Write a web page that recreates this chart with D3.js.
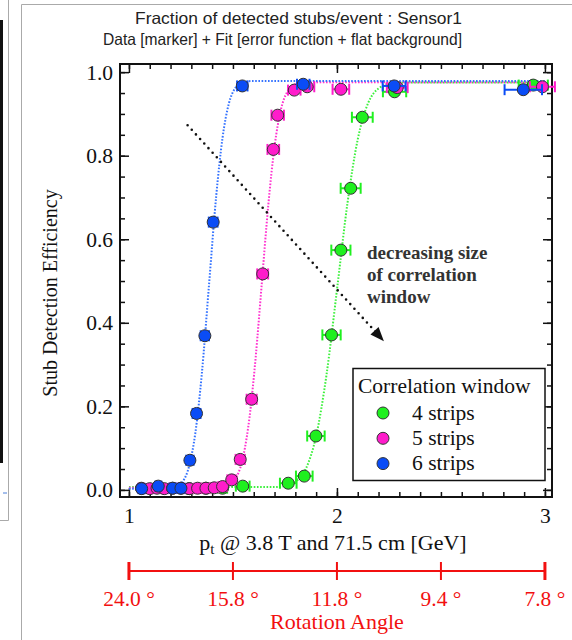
<!DOCTYPE html>
<html>
<head>
<meta charset="utf-8">
<script src="https://cdn.jsdelivr.net/npm/d3@7"></script>
<style>
body{margin:0;background:#fff;}
</style>
</head>
<body>
<div id="chart"></div>
<script>
// measured points, each one is [pt, efficiency, pt error]
var strips4 = [[1.29,0.003,0.018],[1.37,0.004,0.02],[1.45,0.004,0.022],[1.547,0.009,0.033],[1.766,0.016,0.04],
	[1.843,0.033,0.04],[1.899,0.129,0.042],[1.974,0.371,0.044],[2.019,0.574,0.046],[2.066,0.722,0.048],
	[2.122,0.892,0.05],[2.277,0.953,0.056],[2.944,0.969,0.07]];
var strips5 = [[1.06,0.004,0.015],[1.10,0.003,0.015],[1.135,0.004,0.016],[1.17,0.003,0.016],[1.21,0.004,0.017],
	[1.25,0.004,0.017],[1.29,0.003,0.018],[1.33,0.004,0.018],[1.37,0.004,0.019],[1.41,0.005,0.02],
	[1.45,0.008,0.02],[1.494,0.024,0.021],[1.535,0.073,0.022],[1.59,0.217,0.024],[1.643,0.517,0.026],
	[1.694,0.815,0.028],[1.715,0.897,0.03],[1.795,0.957,0.03],[1.857,0.965,0.034],[2.019,0.959,0.04],
	[2.29,0.963,0.05],[2.988,0.965,0.06]];
var strips6 = [[1.061,0.003,0.015],[1.141,0.009,0.015],[1.21,0.004,0.016],[1.25,0.004,0.017],[1.293,0.071,0.018],
	[1.325,0.183,0.019],[1.365,0.369,0.02],[1.405,0.641,0.021],[1.545,0.967,0.025],[1.838,0.971,0.03],
	[2.275,0.967,0.055],[2.896,0.958,0.09]];

// fit curves, [pt, efficiency]
var fit4 = [[1.0,0.007],[1.70,0.007],[1.75,0.009],[1.80,0.019],[1.85,0.05],[1.90,0.129],[1.95,0.276],[2.003,0.491],
	[2.05,0.684],[2.10,0.839],[2.15,0.926],[2.20,0.961],[2.26,0.973],[2.35,0.975],[3.0,0.975]];
var fit5 = [[1.0,0.005],[1.45,0.006],[1.49,0.013],[1.52,0.033],[1.55,0.081],[1.58,0.175],[1.61,0.321],[1.638,0.49],
	[1.67,0.682],[1.70,0.822],[1.73,0.909],[1.76,0.952],[1.80,0.971],[1.85,0.976],[3.0,0.976]];
var fit6 = [[1.0,0.003],[1.15,0.003],[1.22,0.006],[1.26,0.021],[1.29,0.058],[1.32,0.139],[1.35,0.276],[1.385,0.491],
	[1.42,0.706],[1.45,0.843],[1.48,0.924],[1.51,0.961],[1.55,0.976],[1.60,0.979],[3.0,0.979]];

var seriesNames = ["4 strips","5 strips","6 strips"];
var markerColors = ["#1ff01f","#ff1ccb","#0a4cf6"];
var fitColors = ["#3cf03c","#ff33cf","#3573ff"];

var xMajor = [1,2,3];
var yMajor = [0,0.2,0.4,0.6,0.8,1.0];
var angleAt = [1,1.5,2,2.5,3];
var angleLabels = ["24.0 °","15.8 °","11.8 °","9.4 °","7.8 °"];

// arrow annotation in data coords
var arrowFrom = [1.282,0.873], arrowTo = [2.226,0.356];
var noteLines = ["decreasing size","of correlation","window"];

var serif = "'Liberation Serif','Times New Roman',serif";
var sans = "'Liberation Sans',Arial,Helvetica,sans-serif";

var svg = d3.select("#chart")
	.append("svg")
	.attr("width", 572)
	.attr("height", 640);

// panel borders (neighbour panel on the left + this one)
svg.append("line").attr("x1",1.5).attr("x2",1.5).attr("y1",20).attr("y2",463).attr("stroke","#111").attr("stroke-width",3);
svg.append("path").attr("d","M8.5,0V520.5H0").attr("fill","none").attr("stroke","#aaa").attr("stroke-width",1);
svg.append("line").attr("x1",3).attr("x2",7).attr("y1",493).attr("y2",493).attr("stroke","#4a7fd8").attr("stroke-width",1);
svg.append("path").attr("d","M21.5,640V4.5H572").attr("fill","none").attr("stroke","#aaa").attr("stroke-width",1);

var x = d3.scaleLinear().domain([0.957, 3.034]).range([120, 552]);
var y = d3.scaleLinear().domain([-0.017, 1.0195]).range([497, 64]);

// title
svg.append("text").attr("x",462).attr("y",24).attr("text-anchor","end")
	.attr("textLength",327).attr("lengthAdjust","spacingAndGlyphs")
	.style("font-family",sans).style("font-size","16.5px").attr("fill","#222")
	.text("Fraction of detected stubs/event : Sensor1");
svg.append("text").attr("x",462).attr("y",45).attr("text-anchor","end")
	.attr("textLength",359).attr("lengthAdjust","spacingAndGlyphs")
	.style("font-family",sans).style("font-size","16.5px").attr("fill","#222")
	.text("Data [marker] + Fit [error function + flat background]");

// minor + major ticks on all four sides, pointing inward
var xMinor = d3.range(10,31).map(function(d){ return d/10; });
var yMinor = d3.range(0,21).map(function(d){ return d/20; });

function tickAxis(axis, tr){
	var g = svg.append("g").attr("transform", tr).call(axis);
	g.select(".domain").remove();
	g.selectAll("line").attr("stroke","#111").attr("stroke-width",1.5);
	return g;
}
tickAxis(d3.axisBottom(x).tickValues(xMinor).tickSize(-5).tickFormat(""), "translate(0,497)");
tickAxis(d3.axisTop(x).tickValues(xMinor).tickSize(-5).tickFormat(""), "translate(0,64)");
tickAxis(d3.axisLeft(y).tickValues(yMinor).tickSize(-5).tickFormat(""), "translate(120,0)");
tickAxis(d3.axisRight(y).tickValues(yMinor).tickSize(-5).tickFormat(""), "translate(552,0)");
tickAxis(d3.axisTop(x).tickValues(xMajor).tickSize(-9).tickFormat(""), "translate(0,64)");
tickAxis(d3.axisRight(y).tickValues(yMajor).tickSize(-9).tickFormat(""), "translate(552,0)");

var xa = tickAxis(d3.axisBottom(x).tickValues(xMajor).tickSize(-9).tickPadding(11).tickFormat(d3.format("d")), "translate(0,497)");
xa.selectAll("text").style("font-family",serif).style("font-size","21.5px").attr("fill","#111");
var ya = tickAxis(d3.axisLeft(y).tickValues(yMajor).tickSize(-9).tickPadding(7).tickFormat(d3.format(".1f")), "translate(120,0)");
ya.selectAll("text").style("font-family",serif).style("font-size","21.5px").attr("fill","#111");

// frame
svg.append("rect").attr("x",120).attr("y",64).attr("width",432).attr("height",433)
	.attr("fill","none").attr("stroke","#111").attr("stroke-width",2);

// axis titles
svg.append("text").attr("transform","translate(57,293)rotate(-90)").attr("text-anchor","middle")
	.style("font-family",serif).style("font-size","20px").attr("fill","#111")
	.text("Stub Detection Efficiency");
var xl = svg.append("text").attr("x",333).attr("y",550).attr("text-anchor","middle")
	.style("font-family",serif).style("font-size","22px").attr("fill","#111");
xl.append("tspan").text("p");
xl.append("tspan").attr("dy",4).style("font-size","15px").text("t");
xl.append("tspan").attr("dy",-4).text(" @ 3.8 T and 71.5 cm [GeV]");

// fits
var line = d3.line()
	.x(function(d){ return x(d[0]); })
	.y(function(d){ return y(d[1]); })
	.curve(d3.curveMonotoneX);
[fit4, fit5, fit6].forEach(function(f, i){
	svg.append("path").datum(f).attr("d", line)
		.attr("fill","none").attr("stroke", fitColors[i])
		.attr("stroke-width",2).attr("stroke-dasharray","1.6,1.6");
});

// data with x error bars
[strips4, strips5, strips6].forEach(function(s, i){
	var g = svg.append("g");
	var pts = g.selectAll("g").data(s).join("g");
	pts.append("line")
		.attr("x1", function(d){ return x(d[0]-d[2]); })
		.attr("x2", function(d){ return x(d[0]+d[2]); })
		.attr("y1", function(d){ return y(d[1]); })
		.attr("y2", function(d){ return y(d[1]); })
		.attr("stroke", markerColors[i]).attr("stroke-width",2);
	[-1,1].forEach(function(sg){
		pts.append("line")
			.attr("x1", function(d){ return x(d[0]+sg*d[2]); })
			.attr("x2", function(d){ return x(d[0]+sg*d[2]); })
			.attr("y1", function(d){ return y(d[1])-5.5; })
			.attr("y2", function(d){ return y(d[1])+5.5; })
			.attr("stroke", markerColors[i]).attr("stroke-width",2);
	});
	pts.append("circle")
		.attr("cx", function(d){ return x(d[0]); })
		.attr("cy", function(d){ return y(d[1]); })
		.attr("r",6)
		.attr("fill", markerColors[i])
		.attr("stroke","#333").attr("stroke-width",1);
});

// dotted arrow
var ax0 = x(arrowFrom[0]), ay0 = y(arrowFrom[1]), ax1 = x(arrowTo[0]), ay1 = y(arrowTo[1]);
var ang = Math.atan2(ay1-ay0, ax1-ax0);
svg.append("line").attr("x1",ax0).attr("y1",ay0)
	.attr("x2",ax1-12*Math.cos(ang)).attr("y2",ay1-12*Math.sin(ang))
	.attr("stroke","#111").attr("stroke-width",2.6).attr("stroke-linecap","round")
	.attr("stroke-dasharray","0,6.2");
svg.append("path")
	.attr("d","M0,0L-14,-5.5L-14,5.5Z")
	.attr("transform","translate("+ax1+","+ay1+")rotate("+(ang*180/Math.PI)+")")
	.attr("fill","#111");

svg.selectAll(".note").data(noteLines).join("text")
	.attr("class","note")
	.attr("x",367).attr("y", function(d,i){ return 259 + i*22; })
	.style("font-family",serif).style("font-size","19px").style("font-weight","bold")
	.attr("fill","#333")
	.text(function(d){ return d; });

// legend
var lg = svg.append("g");
lg.append("rect").attr("x",353).attr("y",368.5).attr("width",192).attr("height",112)
	.attr("fill","#fff").attr("stroke","#111").attr("stroke-width",1.5);
lg.append("text").attr("x",358).attr("y",393)
	.style("font-family",serif).style("font-size","21.5px").attr("fill","#111")
	.text("Correlation window");
seriesNames.forEach(function(n, i){
	lg.append("circle").attr("cx",383).attr("cy",413+i*25.3).attr("r",6)
		.attr("fill",markerColors[i]).attr("stroke","#333").attr("stroke-width",1);
	lg.append("text").attr("x",412).attr("y",419.5+i*25.3)
		.style("font-family",serif).style("font-size","21.5px").attr("fill","#111")
		.text(n);
});

// rotation angle axis (red), same pt positions
var red = "#f21010";
var ra = svg.append("g");
ra.append("line").attr("x1",x(1)).attr("x2",x(3)).attr("y1",571).attr("y2",571)
	.attr("stroke",red).attr("stroke-width",2);
ra.selectAll(".rt").data(angleAt).join("line")
	.attr("class","rt")
	.attr("x1", function(d){ return x(d); }).attr("x2", function(d){ return x(d); })
	.attr("y1",562).attr("y2",580)
	.attr("stroke",red)
	.attr("stroke-width", function(d,i){ return (i==0 || i==angleAt.length-1) ? 3 : 2; });
ra.selectAll(".rl").data(angleAt).join("text")
	.attr("class","rl")
	.attr("x", function(d){ return x(d); }).attr("y",606)
	.attr("text-anchor","middle")
	.style("font-family",serif).style("font-size","21.5px").attr("fill",red)
	.text(function(d,i){ return angleLabels[i]; });
ra.append("text").attr("x",x(2)).attr("y",629).attr("text-anchor","middle")
	.style("font-family",serif).style("font-size","22px").attr("fill",red)
	.text("Rotation Angle");
</script>
</body>
</html>
